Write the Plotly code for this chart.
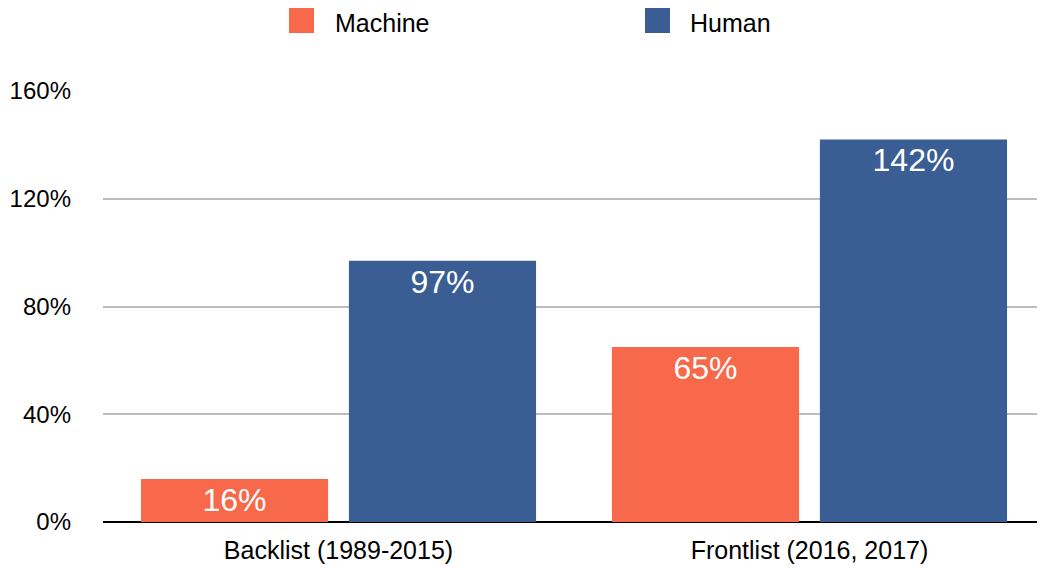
import plotly.graph_objects as go

categories = ['Backlist (1989-2015)', 'Frontlist (2016, 2017)']
machine = [16, 65]
human = [97, 142]
y_ticks = [0, 40, 80, 120, 160]
y_tick_labels = ['0%', '40%', '80%', '120%', '160%']

series_names = ['Machine', 'Human']
series_colors = ['#F7694A', '#3A5E93']

font_family = 'Liberation Sans, Arial, Helvetica, sans-serif'

# figure size / margins (page body adds 8px offset, compensate here)
W, H = 1045, 569
L, R, T, B = 95, 8, 83, 55
pw, ph = W - L - R, H - T - B


def px_x(x):
    return (x - L) / pw


def px_y(y):
    return (H - B - y) / ph


fig = go.Figure()

for name, vals, color in zip(series_names, [machine, human], series_colors):
    fig.add_trace(go.Bar(
        x=categories, y=vals, name=name,
        marker=dict(color=color, line=dict(width=0)),
        text=[f'{v}%' for v in vals], textposition='inside',
        insidetextanchor='end',
        textfont=dict(color='white', size=32, family=font_family),
        showlegend=False,
    ))

# legend drawn by hand (large square swatches)
legend_sq = [(281, 0), (637, 0)]
legend_txt = [325, 680]
sq = 25
for (sx, sy), tx, name, color in zip(legend_sq, legend_txt, series_names, series_colors):
    fig.add_shape(type='rect', xref='paper', yref='paper',
                  x0=px_x(sx), x1=px_x(sx + sq), y0=px_y(sy + sq), y1=px_y(sy),
                  fillcolor=color, line=dict(width=0))
    fig.add_annotation(x=px_x(tx), y=px_y(15), xref='paper', yref='paper',
                       text=name, showarrow=False, xanchor='left', yanchor='middle',
                       font=dict(size=25, color='black', family=font_family))

fig.update_layout(
    width=W, height=H,
    margin=dict(l=L, r=R, t=T, b=B, autoexpand=False),
    paper_bgcolor='white', plot_bgcolor='white',
    font=dict(family=font_family, size=25, color='black'),
    barmode='group', bargap=0.117, bargroupgap=0.10,
    uniformtext=dict(minsize=20, mode='show'),
    showlegend=False,
    xaxis=dict(showline=False, ticks='', tickfont=dict(size=25), automargin=False,
               ticklabelstandoff=11),
    yaxis=dict(
        range=[0, 160], tickmode='array', tickvals=y_ticks, ticktext=y_tick_labels,
        showgrid=True, gridcolor='#BDBDBD', gridwidth=2,
        zeroline=True, zerolinecolor='black', zerolinewidth=2,
        ticklabelstandoff=31, tickfont=dict(size=24), automargin=False,
    ),
)

fig.write_html('out.html')
